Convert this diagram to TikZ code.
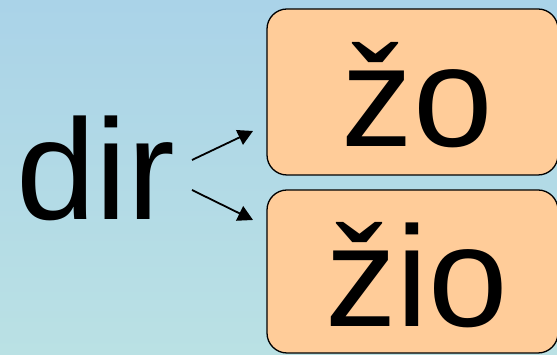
\documentclass[tikz,border=0pt]{standalone}
\usepackage{fontspec}
\setmainfont{Liberation Sans}
\usetikzlibrary{arrows.meta}
\definecolor{bgtop}{RGB}{170,211,232}
\definecolor{bgbot}{RGB}{186,225,228}
\definecolor{boxfill}{RGB}{255,204,153}
\tikzset{
  bigtext/.style={font=\fontsize{143}{143}\selectfont, inner sep=0pt},
  wordbox/.style={draw=black, line width=1.3pt, fill=boxfill, rounded corners=20pt,
    minimum width=291pt, inner sep=0pt, text depth=0pt,
    font=\fontsize{143}{143}\selectfont},
  arr/.style={line width=1.8pt, -{Triangle[length=15pt,width=16pt]}}
}
\begin{document}
\begin{tikzpicture}[x=1pt,y=1pt]
\useasboundingbox (0,0) rectangle (557,355);
\shade[top color=bgtop, bottom color=bgbot] (0,0) rectangle (557,355);
\node[bigtext, anchor=base west] (dir) at (16,135) {dir};
\node[wordbox, minimum height=166pt, text height=110pt] (b1) at (412.5,263) {\hspace{10pt}žo};
\node[wordbox, minimum height=163pt, text height=111pt] (b2) at (412.5,83.5) {\hspace{8pt}žio};
\coordinate (s1) at (192,195);
\coordinate (e1) at (253,224);
\coordinate (s2) at (192,165);
\coordinate (e2) at (253,135);
\draw[arr] (s1) -- (e1);
\draw[arr] (s2) -- (e2);
\end{tikzpicture}
\end{document}
